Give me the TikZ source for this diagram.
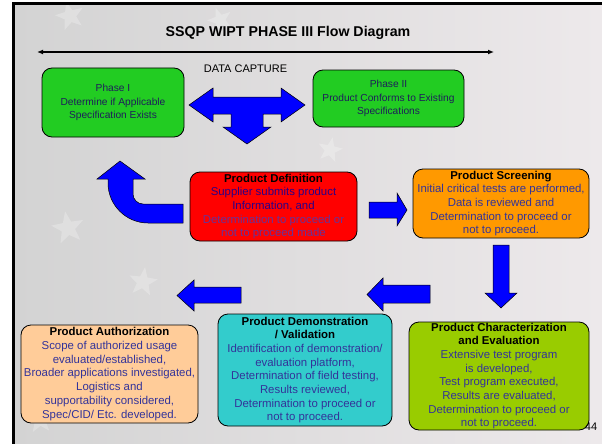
\documentclass[tikz,border=0pt]{standalone}
\usepackage{fontspec}
\setmainfont{Liberation Sans}
\usetikzlibrary{shapes.geometric,arrows.meta}
\definecolor{bgl}{HTML}{D3D3D3}
\definecolor{bgr}{HTML}{EDE9EB}
\definecolor{body}{HTML}{333399}
\definecolor{defblue}{HTML}{2A0088}
\definecolor{defpurple}{HTML}{663399}
\definecolor{phasetext}{HTML}{1E1E5A}
\definecolor{phasegreen}{HTML}{22CC22}
\definecolor{defred}{HTML}{FF0000}
\definecolor{screenorange}{HTML}{FF9900}
\definecolor{chargreen}{HTML}{99CC00}
\definecolor{demoteal}{HTML}{33CCCC}
\definecolor{authpeach}{HTML}{FFCC99}
\definecolor{arrowblue}{HTML}{0000FF}
\begin{document}
\begin{tikzpicture}[x=1pt,y=-1pt,
  box/.style={draw=black, line width=0.8pt, rounded corners=10pt, align=center,
    inner sep=0pt, font=\fontsize{11.4}{13.7}\selectfont, text=body},
  phasebox/.style={box, fill=phasegreen, font=\fontsize{10.2}{13.6}\selectfont, text=phasetext},
  barrow/.style={fill=arrowblue, draw=black, line width=0.5pt},
  faintstar/.style={star, star points=5, star point ratio=2.4, fill=white, opacity=0.25, inner sep=0pt}
]
\useasboundingbox (0,0) rectangle (602,444);
\fill[white] (0,0) rectangle (602,444);
\shade[left color=bgl, right color=bgr] (13,4) rectangle (602,444);
% faint background stars
\node[faintstar, minimum size=34pt, rotate=10] (s1) at (68,228) {};
\node[faintstar, minimum size=30pt, rotate=-8] (s2) at (143,282) {};
\node[faintstar, minimum size=30pt, rotate=15] (s3) at (70,16) {};
\node[faintstar, minimum size=26pt, rotate=-12] (s4) at (330,150) {};
\node[faintstar, minimum size=28pt, rotate=5] (s5) at (40,420) {};
\node[faintstar, minimum size=26pt, rotate=20] (s6) at (220,20) {};
% frame
\draw[line width=3pt] (13,444) -- (13,4) -- (602,4);

% title and data capture line
\node[font=\fontsize{14.2}{16}\selectfont\bfseries] (title) at (288,33) {SSQP WIPT PHASE III Flow Diagram};
\coordinate (dl) at (37,52);
\coordinate (dr) at (494,52);
\draw[line width=1.2pt, {Latex[length=6pt,width=5pt]}-{Latex[length=6pt,width=5pt]}] (dl) -- (dr);
\node[font=\fontsize{11}{13}\selectfont] (dc) at (245.5,69) {DATA CAPTURE};

% phase boxes
\node[phasebox, minimum width=142pt, minimum height=69pt] (p1) at (113,102.5)
  {Phase I\\Determine if Applicable\\Specification Exists};
\node[phasebox, minimum width=151pt, minimum height=57pt] (p2) at (388.5,98.5)
  {Phase II\\Product Conforms to Existing\\Specifications};

% T arrow
\draw[barrow] (189,105) -- (213,88) -- (213,97) -- (281,97) -- (281,88) -- (305,105)
  -- (281,122) -- (281,114) -- (263,114) -- (263,127) -- (271,127) -- (247,144)
  -- (223,127) -- (231,127) -- (231,114) -- (213,114) -- (213,122) -- cycle;

% product boxes
\node[box, fill=defred, minimum width=167pt, minimum height=69pt] (def) at (273.5,206.5)
  {\textcolor{black}{\bfseries Product Definition}\\
   \textcolor{defblue}{Supplier submits product}\\
   \textcolor{defblue}{Information, and}\\
   \textcolor{defpurple}{Determination to proceed or}\\
   \textcolor{defpurple}{not to proceed made}};
\node[box, fill=screenorange, minimum width=176pt, minimum height=69pt] (scr) at (501,203.5)
  {\textcolor{black}{\bfseries Product Screening}\\
   Initial critical tests are performed,\\
   Data is reviewed and\\
   Determination to proceed or\\
   not to proceed.};
\node[box, fill=chargreen, minimum width=180pt, minimum height=108pt] (chr) at (499,376)
  {\textcolor{black}{\bfseries Product Characterization}\\
   \textcolor{black}{\bfseries and Evaluation}\\
   Extensive test program\\
   is developed,\\
   Test program executed,\\
   Results are evaluated,\\
   Determination to proceed or\\
   not to proceed.};
\node[box, fill=demoteal, minimum width=174pt, minimum height=112pt] (demo) at (305,370)
  {\textcolor{black}{\bfseries Product Demonstration}\\
   \textcolor{black}{\bfseries / Validation}\\
   Identification of demonstration/\\
   evaluation platform,\\
   Determination of field testing,\\
   Results reviewed,\\
   Determination to proceed or\\
   not to proceed.};
\node[box, fill=authpeach, minimum width=177pt, minimum height=98pt] (auth) at (109.5,374)
  {\textcolor{black}{\bfseries Product Authorization}\\
   Scope of authorized usage\\
   evaluated/established,\\
   Broader applications investigated,\\
   Logistics and\\
   supportability considered,\\
   Spec/CID/ Etc. developed.};

% U-turn arrow (definition back to phase I)
\draw[barrow] (120,161) -- (145,179) -- (133,179) -- (133,194)
  .. controls (133,199.5) and (137.5,204) .. (143,204)
  -- (183,204) -- (183,223) -- (148,223)
  .. controls (126,223) and (108,205) .. (108,183)
  -- (108,179) -- (97,179) -- cycle;

% right arrow (definition -> screening)
\draw[barrow] (369,202) -- (397,202) -- (397,193) -- (407,210) -- (397,226) -- (397,218) -- (369,218) -- cycle;

% down arrow (screening -> characterization)
\draw[barrow] (493,245) -- (509,245) -- (509,293) -- (517,293) -- (501,308) -- (485,293) -- (493,293) -- cycle;

% left arrow (characterization -> demonstration)
\draw[barrow] (430,285) -- (383,285) -- (383,278) -- (367,294.5) -- (383,311) -- (383,303) -- (430,303) -- cycle;

% left arrow (demonstration -> authorization)
\draw[barrow] (241,287) -- (194,287) -- (194,280) -- (177,295.5) -- (194,311) -- (194,303) -- (241,303) -- cycle;

% page number
\node[font=\fontsize{11}{13}\selectfont] (pg) at (591,427) {44};
\end{tikzpicture}
\end{document}
